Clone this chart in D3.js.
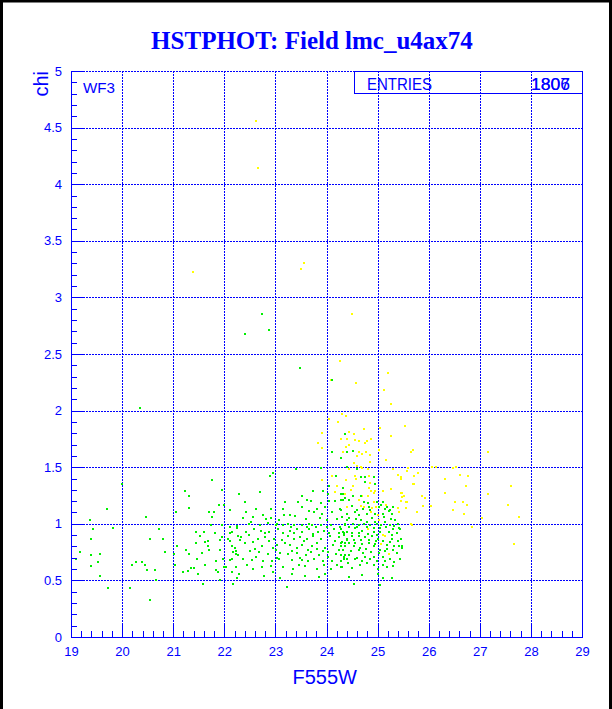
<!DOCTYPE html>
<html>
<head>
<meta charset="utf-8">
<script src="https://cdn.jsdelivr.net/npm/d3@7"></script>
<style>
  body { margin: 0; background: #fff; }
  svg { display: block; }
  .axis text { font-family: "Liberation Sans", Arial, sans-serif; fill: #0000ff; }
  .axis path, .axis line { stroke: #0000ff; shape-rendering: crispEdges; }
</style>
</head>
<body>
<div id="chart"></div>
<script>
'use strict';

const xTicks = [19, 20, 21, 22, 23, 24, 25, 26, 27, 28, 29];
const yTicks = [0, 0.5, 1, 1.5, 2, 2.5, 3, 3.5, 4, 4.5, 5];
const entryLabel = 'ENTRIES';
const entryValues = ['1806', '1807'];

// [F555W, chi]
const greenStars = [
    [22.73,2.85],[22.87,2.71],[22.41,2.68],[23.49,2.38],[24.10,2.27],[20.35,2.02],[24.11,1.63],[24.28,1.58],
    [24.36,1.79],[24.40,1.63],[24.51,1.64],[24.60,1.48],[24.40,1.50],[24.68,1.41],[24.76,1.41],[24.92,1.41],
    [24.75,1.37],[24.94,1.35],[24.32,1.26],[24.52,1.25],[24.67,1.25],[24.36,1.23],[24.44,1.21],[24.28,1.21],
    [24.73,1.19],[24.81,1.18],[24.98,1.19],[25.07,1.17],[25.11,1.19],[24.50,1.16],[24.83,1.15],[25.02,1.15],
    [25.19,1.15],[25.31,1.15],[24.41,1.09],[24.55,1.10],[24.64,1.08],[24.79,1.09],[24.94,1.09],[25.10,1.09],
    [25.22,1.11],[25.28,1.09],[24.30,1.06],[24.45,1.05],[24.58,1.04],[24.68,1.03],[24.89,1.05],[25.13,1.06],
    [25.26,1.04],[25.35,1.03],[24.36,1.00],[24.51,1.00],[24.63,0.99],[24.73,1.00],[24.85,0.99],[24.98,1.00],
    [25.07,0.99],[25.16,0.97],[25.24,0.99],[25.33,0.98],[25.42,0.96],[24.29,0.95],[24.41,0.93],[24.55,0.96],
    [24.69,0.94],[24.93,0.93],[25.05,0.93],[25.22,0.93],[25.37,0.92],[24.34,0.90],[24.49,0.89],[24.63,0.89],
    [24.76,0.88],[24.89,0.89],[25.01,0.87],[25.29,0.87],[25.45,0.87],[24.30,0.84],[24.44,0.83],[24.56,0.83],
    [24.69,0.82],[24.84,0.83],[24.94,0.82],[25.19,0.81],[25.32,0.80],[25.48,0.80],[24.33,0.77],[24.47,0.76],
    [24.63,0.77],[24.72,0.74],[24.88,0.75],[25.02,0.74],[25.14,0.76],[25.37,0.74],[24.40,0.69],[24.55,0.69],
    [24.69,0.67],[24.85,0.69],[24.98,0.67],[25.14,0.67],[25.33,0.66],[24.30,0.62],[24.49,0.61],[24.79,0.65],
    [25.01,0.60],[25.18,0.62],[24.69,0.55],[25.01,0.56],[25.11,0.52],[25.28,0.52],[24.45,0.53],[24.53,0.47],
    [25.05,0.46],[25.44,0.95],[25.47,0.79],[25.44,0.69],
    [24.28,0.83],[24.36,0.80],[24.53,0.80],[24.66,0.79],[24.77,0.78],[24.92,0.80],[25.04,0.77],[25.18,0.78],
    [25.31,0.77],[25.41,0.80],[24.28,0.72],[24.34,0.71],[24.45,0.72],[24.59,0.70],[24.75,0.71],[24.92,0.71],
    [25.11,0.71],[25.24,0.69],[24.42,0.65],[24.66,0.64],[24.92,0.64],[25.11,0.64],[25.31,0.63],[24.28,0.67],
    [24.40,1.03],[24.80,1.02],[24.94,1.02],[25.15,1.02],[25.39,1.00],[24.45,0.97],[24.59,0.97],[24.79,0.97],
    [24.92,0.96],[25.04,0.96],[25.31,0.95],[24.34,0.92],[24.50,0.92],[24.63,0.92],[24.81,0.91],[24.98,0.90],
    [25.28,0.90],[24.40,0.86],[24.53,0.86],[24.67,0.86],[24.83,0.86],[24.96,0.85],[25.10,0.85],[25.24,0.84],
    [25.39,0.85],[24.28,1.12],[24.59,1.12],[24.71,1.13],[24.85,1.12],[25.14,1.13],[25.24,1.12],
    [23.40,1.48],[23.89,1.49],[22.95,1.45],[22.89,1.42],[24.19,1.42],[24.05,1.33],[24.33,1.32],[22.70,1.28],
    [23.74,1.29],[23.94,1.29],[24.28,1.26],[23.52,1.25],[24.03,1.26],[23.61,1.21],[23.69,1.20],[22.40,1.19],
    [23.18,1.19],[23.44,1.19],[23.90,1.18],[24.04,1.20],[24.17,1.20],[24.33,1.21],[22.62,1.13],[22.91,1.13],
    [23.14,1.13],[23.53,1.15],[23.81,1.13],[23.98,1.15],[24.26,1.13],[22.42,1.10],[23.65,1.11],[23.76,1.10],
    [23.91,1.09],[24.11,1.10],[22.76,1.08],[23.17,1.08],[23.29,1.08],[23.38,1.07],[22.37,1.05],[22.56,1.06],
    [22.82,1.04],[22.91,1.05],[23.08,1.03],[23.60,1.04],[23.87,1.05],[24.00,1.03],[24.21,1.04],[24.40,1.03],
    [22.49,1.00],[22.70,0.99],[22.85,1.01],[23.01,0.99],[23.14,0.99],[23.24,1.00],[23.37,0.99],[23.52,0.99],
    [23.61,0.97],[23.72,0.99],[23.80,0.97],[23.90,0.99],[24.08,0.99],[24.26,0.97],[22.58,0.95],[22.71,0.94],
    [22.88,0.93],[23.06,0.95],[23.15,0.92],[23.29,0.94],[23.43,0.95],[23.53,0.93],[23.65,0.95],[23.83,0.93],
    [23.96,0.94],[24.15,0.95],[24.33,0.93],[22.33,0.88],[22.49,0.90],[22.65,0.87],[22.80,0.88],[22.97,0.87],
    [23.12,0.86],[23.25,0.89],[23.36,0.87],[23.48,0.88],[23.61,0.87],[23.73,0.89],[23.90,0.87],[24.07,0.89],
    [24.24,0.88],[24.41,0.87],[22.41,0.83],[22.61,0.78],[22.74,0.80],[22.95,0.79],[23.04,0.81],[23.29,0.81],
    [23.42,0.79],[23.52,0.81],[23.72,0.80],[23.81,0.78],[23.98,0.79],[24.13,0.81],[24.29,0.80],[22.68,0.75],
    [22.86,0.73],[23.09,0.74],[23.25,0.73],[23.43,0.74],[23.60,0.72],[23.70,0.75],[23.86,0.72],[24.02,0.75],
    [24.19,0.73],[24.37,0.72],[22.36,0.69],[22.54,0.68],[22.76,0.67],[22.93,0.67],[23.08,0.69],[23.32,0.68],
    [23.53,0.68],[23.64,0.67],[23.76,0.69],[23.93,0.67],[24.10,0.67],[24.34,0.69],[22.57,0.60],[22.74,0.62],
    [23.14,0.62],[23.35,0.60],[23.58,0.63],[23.82,0.60],[24.08,0.60],[24.28,0.62],[22.78,0.54],[23.09,0.52],
    [23.58,0.54],[23.86,0.53],[24.44,0.53],[23.22,0.44],
    [22.53,1.02],[23.04,1.00],[23.30,0.97],[23.66,1.00],[24.00,0.97],[24.36,0.99],[22.42,0.93],[22.79,0.92],
    [23.36,0.92],[23.74,0.91],[24.05,0.92],[24.24,0.92],[22.57,0.84],[22.87,0.85],[23.19,0.83],[23.56,0.85],
    [23.82,0.83],[24.16,0.85],[24.36,0.83],[22.50,0.76],[23.01,0.77],[23.32,0.76],[23.64,0.77],[23.93,0.76],
    [24.24,0.77],[22.63,0.71],[23.03,0.70],[23.48,0.70],[24.02,0.71],[22.44,0.64],[22.91,0.63],[23.46,0.64],
    [23.96,0.64],[24.20,0.64],[22.96,0.57],[23.32,0.56],[23.98,0.56],
    [20.00,1.35],[19.70,1.13],[19.37,1.03],[20.46,1.06],[19.82,0.96],[19.44,0.95],[20.72,0.95],[19.39,0.87],
    [20.54,0.87],[20.80,0.87],[19.17,0.75],[19.56,0.73],[19.39,0.72],[19.09,0.69],[19.53,0.66],[19.40,0.63],
    [19.56,0.54],[19.72,0.43],[20.15,0.43],[20.54,0.33],[20.84,0.75],[20.27,0.66],[20.20,0.64],[20.38,0.66],
    [20.45,0.64],[20.49,0.59],[20.64,0.59],[20.66,0.50],[21.01,0.73],[21.07,0.80],[21.04,0.64],[21.06,1.10],
    [21.23,1.29],[21.31,1.25],[21.31,1.14],[21.75,1.39],[21.95,1.30],[21.90,1.17],[21.99,1.17],[21.70,1.10],
    [21.79,1.10],[21.75,1.06],[22.11,1.12],[22.29,1.26],[21.74,0.99],[21.44,0.93],[21.60,0.93],[21.52,0.89],
    [21.68,0.85],[21.62,0.84],[21.82,0.92],[21.91,0.86],[21.96,0.88],[21.44,0.83],[21.69,0.80],[21.70,0.77],
    [21.92,0.77],[21.56,0.74],[21.26,0.77],[21.31,0.73],[21.47,0.69],[21.83,0.67],[21.62,0.64],[21.35,0.61],
    [21.40,0.61],[21.28,0.58],[21.19,0.57],[21.48,0.56],[21.83,0.59],[21.87,0.57],[21.91,0.50],[21.58,0.47],
    [22.00,0.62],[22.04,0.62],[22.16,0.57],[22.22,0.62],[22.25,0.52],[22.18,0.47],[21.97,0.69],[22.11,0.68],
    [22.16,0.69],[22.22,0.73],[22.18,0.75],[22.22,0.76],[22.26,0.72],[22.20,0.79],[22.11,0.85],[22.08,0.87],
    [22.16,0.80],[22.27,0.89],[22.30,0.86],[22.25,0.96],[22.25,0.98],[22.12,0.97],[22.11,0.92],[22.16,0.93],
    [21.96,0.99],[22.29,0.56]
];

const yellowStars = [
    [22.63,4.56],[22.65,4.14],[21.39,3.22],[23.55,3.30],[23.51,3.25],[24.49,2.85],[24.27,2.44],[24.09,2.27],
    [24.58,2.24],[25.20,2.33],[25.12,2.18],
    [24.04,1.93],[24.22,1.90],[23.91,1.80],[23.84,1.71],[23.92,1.67],[25.16,1.56],[24.75,1.71],[24.60,1.60],
    [25.26,2.06],[24.30,1.97],[24.38,1.95],[24.73,1.84],[25.05,1.85],[24.45,1.81],[24.53,1.79],[25.26,1.78],
    [24.28,1.75],[24.40,1.75],[24.55,1.74],[24.64,1.73],[24.88,1.75],[24.79,1.73],[24.45,1.70],[24.38,1.68],
    [24.32,1.63],[24.63,1.63],[24.69,1.62],[24.77,1.63],[24.85,1.61],[24.53,1.54],[24.86,1.55],[25.02,1.65],
    [24.59,1.51],[24.67,1.50],[24.69,1.49],[24.81,1.48],[24.38,1.39],[24.55,1.42],[24.58,1.40],[24.84,1.42],
    [25.31,1.48],[25.40,1.43],[25.45,1.41],[25.57,1.47],[25.70,1.35],[25.27,1.31],[25.10,1.29],[24.85,1.36],
    [24.84,1.32],[24.88,1.29],[24.94,1.29],[24.52,1.33],[24.47,1.30],[24.69,1.25],[24.81,1.25],[24.93,1.27],
    [25.48,1.27],[25.48,1.24],[25.45,1.20],[25.57,1.19],[24.64,1.21],[24.92,1.19],[25.16,1.17],[24.41,1.15],
    [24.67,1.16],[24.73,1.15],[24.90,1.14],[24.96,1.15],[25.40,1.14],[24.88,1.10],[25.01,1.08],[25.41,1.10],
    [25.02,1.03],[25.66,1.00],[24.81,0.95],[25.10,0.90],[25.15,0.89],[25.07,0.82],[25.23,0.73],
    [24.11,1.42],[23.91,1.39],[24.20,1.33],[24.17,1.28],[24.37,1.26],[24.44,1.48],
    [25.53,1.86],[25.69,1.65],[25.65,1.63],[27.17,1.63],[25.59,1.49],[26.06,1.50],[26.14,1.50],[26.47,1.49],
    [26.53,1.50],[25.45,1.40],[25.71,1.42],[25.79,1.45],[26.31,1.40],[26.61,1.43],[26.77,1.42],[25.71,1.35],
    [26.73,1.33],[27.62,1.33],[25.46,1.27],[26.31,1.27],[27.16,1.26],[25.52,1.25],[25.87,1.25],[25.92,1.23],
    [25.46,1.20],[25.56,1.19],[26.52,1.19],[26.67,1.19],[26.74,1.17],[27.56,1.17],[25.88,1.16],[26.04,1.16],
    [25.56,1.14],[26.47,1.12],[25.77,1.10],[26.69,1.09],[27.04,1.05],[27.76,1.06],[25.67,0.99],[26.85,0.97],
    [27.67,0.82]
];

const W = 612, H = 709;
const plot = { left: 71, right: 582, top: 71, bottom: 637 };
const blue = '#0000ff';

const svg = d3.select('#chart').append('svg')
    .attr('width', W)
    .attr('height', H);

svg.append('rect').attr('width', W).attr('height', H).attr('fill', '#fff');

// canvas frame (left, top, right)
svg.append('path')
    .attr('d', `M1.5,${H} L1.5,1 L${W - 1.5},1 L${W - 1.5},${H}`)
    .attr('fill', 'none')
    .attr('stroke', '#000')
    .attr('stroke-width', 3);

const x = d3.scaleLinear().domain([19, 29]).range([plot.left, plot.right]);
const y = d3.scaleLinear().domain([0, 5]).range([plot.bottom, plot.top]);

const snap = v => Math.round(v) + 0.5;

// grid
const grid = svg.append('g')
    .attr('stroke', blue)
    .attr('stroke-width', 1)
    .attr('stroke-dasharray', '2,1')
    .attr('shape-rendering', 'crispEdges');

grid.selectAll('line.gx')
    .data(xTicks.slice(1, -1))
    .join('line')
    .attr('class', 'gx')
    .attr('x1', d => snap(x(d))).attr('x2', d => snap(x(d)))
    .attr('y1', plot.top).attr('y2', plot.bottom);

grid.selectAll('line.gy')
    .data(yTicks.slice(1))
    .join('line')
    .attr('class', 'gy')
    .attr('x1', plot.left).attr('x2', plot.right)
    .attr('y1', d => snap(y(d))).attr('y2', d => snap(y(d)));

// stars
function drawStars(data, color) {
    svg.append('g')
        .attr('fill', color)
        .attr('shape-rendering', 'crispEdges')
        .selectAll('rect')
        .data(data)
        .join('rect')
        .attr('x', d => Math.round(x(d[0])) - 1)
        .attr('y', d => Math.round(y(d[1])) - 1)
        .attr('width', 2)
        .attr('height', 2);
}
drawStars(yellowStars, '#ffff00');
drawStars(greenStars, '#00f000');

// axes
const fmt = d => String(d);

svg.append('g')
    .attr('class', 'axis')
    .attr('transform', `translate(0,${plot.bottom})`)
    .call(d3.axisBottom(x).tickValues(d3.range(19, 29.001, 0.2)).tickSize(-6).tickSizeOuter(0).tickFormat(''))
    .call(g => g.select('.domain').remove());

svg.append('g')
    .attr('class', 'axis')
    .attr('transform', `translate(0,${plot.bottom})`)
    .call(d3.axisBottom(x).tickValues(xTicks).tickSize(-12).tickSizeOuter(0).tickPadding(10).tickFormat(fmt))
    .call(g => g.selectAll('text').attr('font-size', 13));

svg.append('g')
    .attr('class', 'axis')
    .attr('transform', `translate(${plot.left},0)`)
    .call(d3.axisLeft(y).tickValues(d3.range(0, 5.001, 0.1)).tickSize(-6).tickSizeOuter(0).tickFormat(''))
    .call(g => g.select('.domain').remove());

svg.append('g')
    .attr('class', 'axis')
    .attr('transform', `translate(${plot.left},0)`)
    .call(d3.axisLeft(y).tickValues(yTicks).tickSize(-12).tickSizeOuter(0).tickPadding(9).tickFormat(fmt))
    .call(g => g.selectAll('text').attr('font-size', 13));

// right edge
svg.append('line')
    .attr('x1', snap(plot.right)).attr('x2', snap(plot.right))
    .attr('y1', plot.top).attr('y2', plot.bottom)
    .attr('stroke', blue)
    .attr('shape-rendering', 'crispEdges');

// stats box
svg.append('rect')
    .attr('x', 354.5).attr('y', 71.5)
    .attr('width', snap(plot.right) - 354.5).attr('height', 22)
    .attr('fill', 'none')
    .attr('stroke', blue)
    .attr('shape-rendering', 'crispEdges');

const labelFont = '"Liberation Sans", Arial, sans-serif';

svg.append('text')
    .attr('x', 367).attr('y', 89.5)
    .attr('font-family', labelFont).attr('font-size', 16)
    .attr('textLength', 65).attr('lengthAdjust', 'spacingAndGlyphs')
    .attr('fill', blue)
    .text(entryLabel);

svg.selectAll('text.entries')
    .data(entryValues)
    .join('text')
    .attr('class', 'entries')
    .attr('x', 531).attr('y', 89.5)
    .attr('font-family', labelFont).attr('font-size', 16)
    .attr('textLength', 39).attr('lengthAdjust', 'spacingAndGlyphs')
    .attr('fill', blue)
    .text(d => d);

svg.append('text')
    .attr('x', 83).attr('y', 93)
    .attr('font-family', labelFont).attr('font-size', 15)
    .attr('textLength', 32).attr('lengthAdjust', 'spacingAndGlyphs')
    .attr('fill', blue)
    .text('WF3');

// title and axis titles
svg.append('text')
    .attr('x', 312).attr('y', 49)
    .attr('text-anchor', 'middle')
    .attr('font-family', '"Liberation Serif", "Times New Roman", serif')
    .attr('font-weight', 'bold')
    .attr('font-size', 25)
    .attr('fill', blue)
    .text('HSTPHOT: Field lmc_u4ax74');

svg.append('text')
    .attr('x', 357).attr('y', 684)
    .attr('text-anchor', 'end')
    .attr('font-family', labelFont).attr('font-size', 20)
    .attr('fill', blue)
    .text('F555W');

svg.append('text')
    .attr('transform', `translate(48,${plot.top}) rotate(-90)`)
    .attr('text-anchor', 'end')
    .attr('font-family', labelFont).attr('font-size', 20)
    .attr('fill', blue)
    .text('chi');
</script>
</body>
</html>
